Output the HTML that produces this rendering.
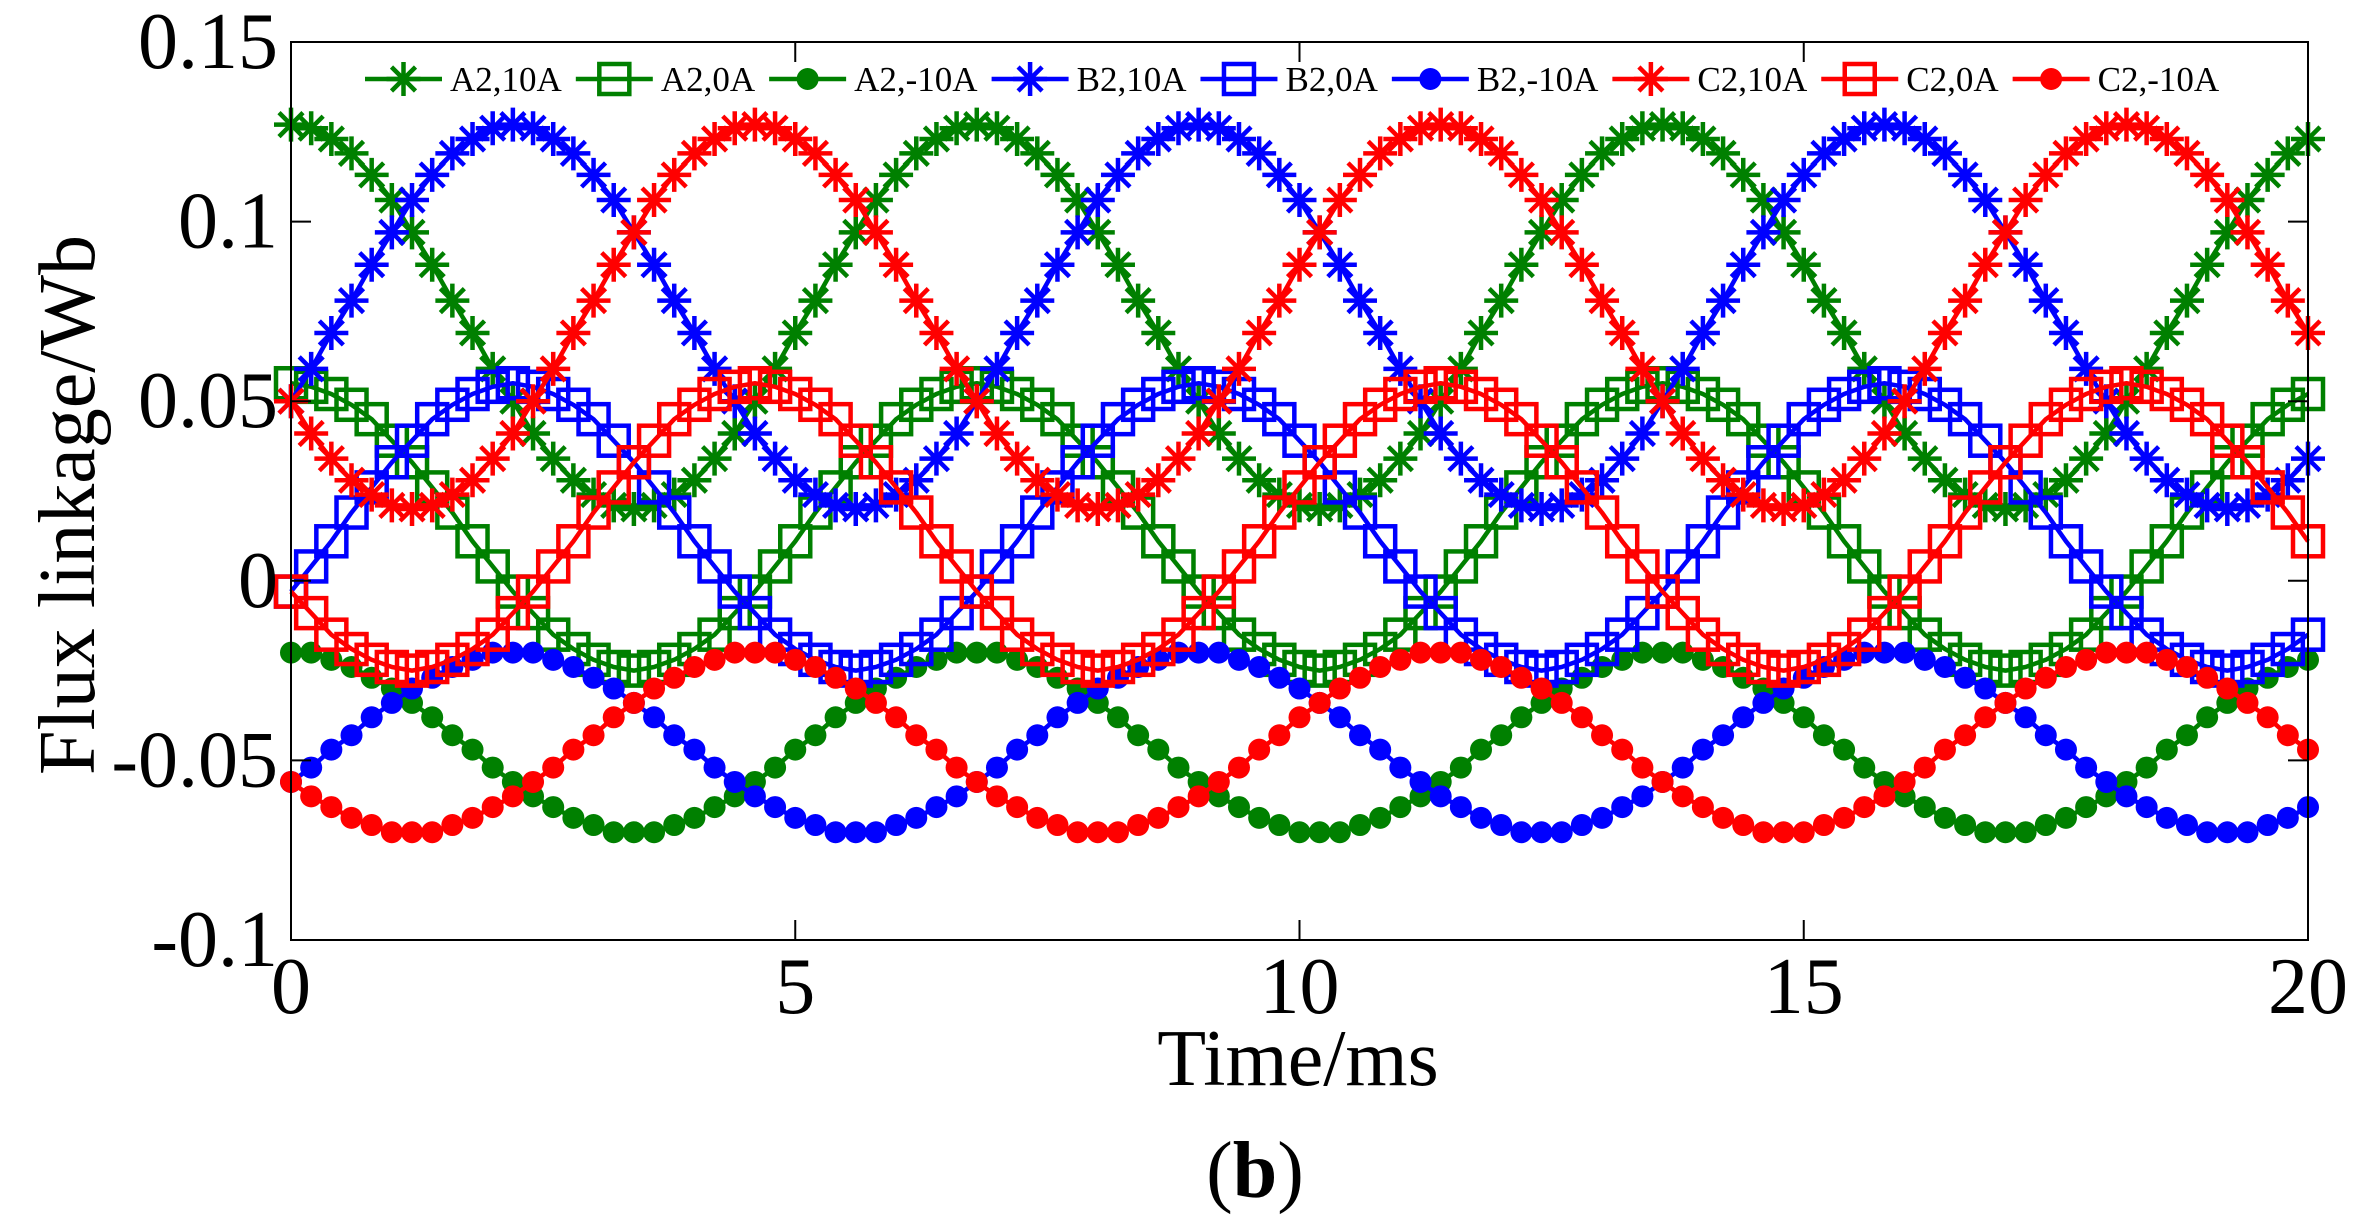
<!DOCTYPE html>
<html>
<head>
<meta charset="utf-8">
<style>
html,body{margin:0;padding:0;background:#fff;}
svg{display:block;}
text{font-family:"Liberation Serif","Times New Roman",serif;fill:#000;}
</style>
</head>
<body>
<svg id="chart" width="2374" height="1231" viewBox="0 0 2374 1231" xmlns="http://www.w3.org/2000/svg">
  <rect x="0" y="0" width="2374" height="1231" fill="#fff"/>
  <g id="series-layer"></g>
  <g id="axes-layer"></g>
  <g id="legend-layer"></g>
  <text x="94" y="505" font-size="80" text-anchor="middle" transform="rotate(-90 94 505)">Flux linkage/Wb</text>
  <text x="1298" y="1085" font-size="80" text-anchor="middle">Time/ms</text>
  <text x="1255" y="1197" font-size="80" text-anchor="middle">(<tspan font-weight="bold">b</tspan>)</text>
</svg>
<script>
// ---- data ----
const timeStep = 0.2; // ms between samples
const xTicks = [0, 5, 10, 15, 20];
const xTickLabels = ["0", "5", "10", "15", "20"];
const yTicks = [0.15, 0.1, 0.05, 0, -0.05, -0.1];
const yTickLabels = ["0.15", "0.1", "0.05", "0", "-0.05", "-0.1"];
const seriesNames = ["A2,10A","A2,0A","A2,-10A","B2,10A","B2,0A","B2,-10A","C2,10A","C2,0A","C2,-10A"];

const a10 = [.127,.126,.123,.119,.113,.106,.097,.088,.078,.069,.059,.050,.041,.034,.028,.024,.021,.020,.021,.024,.028,.034,.041,.050,.059,.069,.078,.088,.097,.106,.113,.119,.123,.126,
.127,.126,.123,.119,.113,.106,.097,.088,.078,.069,.059,.050,.041,.034,.028,.024,.021,.020,.021,.024,.028,.034,.041,.050,.059,.069,.078,.088,.097,.106,.113,.119,.123,.126,
.127,.126,.123,.119,.113,.106,.097,.088,.078,.069,.059,.050,.041,.034,.028,.024,.021,.020,.021,.024,.028,.034,.041,.050,.059,.069,.078,.088,.097,.106,.113,.119,.123];
const a0 = [.055,.054,.052,.049,.045,.039,.033,.026,.019,.011,.004,-.003,-.009,-.015,-.019,-.022,-.024,-.025,-.024,-.022,-.019,-.015,-.009,-.003,.004,.011,.019,.026,.033,.039,.045,.049,.052,.054,
.055,.054,.052,.049,.045,.039,.033,.026,.019,.011,.004,-.003,-.009,-.015,-.019,-.022,-.024,-.025,-.024,-.022,-.019,-.015,-.009,-.003,.004,.011,.019,.026,.033,.039,.045,.049,.052,.054,
.055,.054,.052,.049,.045,.039,.033,.026,.019,.011,.004,-.003,-.009,-.015,-.019,-.022,-.024,-.025,-.024,-.022,-.019,-.015,-.009,-.003,.004,.011,.019,.026,.033,.039,.045,.049,.052];
const am = [-.020,-.020,-.022,-.024,-.027,-.030,-.034,-.038,-.043,-.047,-.052,-.056,-.060,-.063,-.066,-.068,-.070,-.070,-.070,-.068,-.066,-.063,-.060,-.056,-.052,-.047,-.043,-.038,-.034,-.030,-.027,-.024,-.022,-.020,
-.020,-.020,-.022,-.024,-.027,-.030,-.034,-.038,-.043,-.047,-.052,-.056,-.060,-.063,-.066,-.068,-.070,-.070,-.070,-.068,-.066,-.063,-.060,-.056,-.052,-.047,-.043,-.038,-.034,-.030,-.027,-.024,-.022,-.020,
-.020,-.020,-.022,-.024,-.027,-.030,-.034,-.038,-.043,-.047,-.052,-.056,-.060,-.063,-.066,-.068,-.070,-.070,-.070,-.068,-.066,-.063,-.060,-.056,-.052,-.047,-.043,-.038,-.034,-.030,-.027,-.024,-.022];

const b10 = [.050,.059,.069,.078,.088,.097,.106,.113,.119,.123,.126,
.127,.126,.123,.119,.113,.106,.097,.088,.078,.069,.059,.050,.041,.034,.028,.024,.021,.020,.021,.024,.028,.034,.041,.050,.059,.069,.078,.088,.097,.106,.113,.119,.123,.126,
.127,.126,.123,.119,.113,.106,.097,.088,.078,.069,.059,.050,.041,.034,.028,.024,.021,.020,.021,.024,.028,.034,.041,.050,.059,.069,.078,.088,.097,.106,.113,.119,.123,.126,
.127,.126,.123,.119,.113,.106,.097,.088,.078,.069,.059,.050,.041,.034,.028,.024,.021,.020,.021,.024,.028,.034];
const b0 = [-.003,.004,.011,.019,.026,.033,.039,.045,.049,.052,.054,
.055,.054,.052,.049,.045,.039,.033,.026,.019,.011,.004,-.003,-.009,-.015,-.019,-.022,-.024,-.025,-.024,-.022,-.019,-.015,-.009,-.003,.004,.011,.019,.026,.033,.039,.045,.049,.052,.054,
.055,.054,.052,.049,.045,.039,.033,.026,.019,.011,.004,-.003,-.009,-.015,-.019,-.022,-.024,-.025,-.024,-.022,-.019,-.015,-.009,-.003,.004,.011,.019,.026,.033,.039,.045,.049,.052,.054,
.055,.054,.052,.049,.045,.039,.033,.026,.019,.011,.004,-.003,-.009,-.015,-.019,-.022,-.024,-.025,-.024,-.022,-.019,-.015];
const bm = [-.056,-.052,-.047,-.043,-.038,-.034,-.030,-.027,-.024,-.022,-.020,
-.020,-.020,-.022,-.024,-.027,-.030,-.034,-.038,-.043,-.047,-.052,-.056,-.060,-.063,-.066,-.068,-.070,-.070,-.070,-.068,-.066,-.063,-.060,-.056,-.052,-.047,-.043,-.038,-.034,-.030,-.027,-.024,-.022,-.020,
-.020,-.020,-.022,-.024,-.027,-.030,-.034,-.038,-.043,-.047,-.052,-.056,-.060,-.063,-.066,-.068,-.070,-.070,-.070,-.068,-.066,-.063,-.060,-.056,-.052,-.047,-.043,-.038,-.034,-.030,-.027,-.024,-.022,-.020,
-.020,-.020,-.022,-.024,-.027,-.030,-.034,-.038,-.043,-.047,-.052,-.056,-.060,-.063,-.066,-.068,-.070,-.070,-.070,-.068,-.066,-.063];

const c10 = [.050,.041,.034,.028,.024,.021,.020,.021,.024,.028,.034,.041,.050,.059,.069,.078,.088,.097,.106,.113,.119,.123,.126,
.127,.126,.123,.119,.113,.106,.097,.088,.078,.069,.059,.050,.041,.034,.028,.024,.021,.020,.021,.024,.028,.034,.041,.050,.059,.069,.078,.088,.097,.106,.113,.119,.123,.126,
.127,.126,.123,.119,.113,.106,.097,.088,.078,.069,.059,.050,.041,.034,.028,.024,.021,.020,.021,.024,.028,.034,.041,.050,.059,.069,.078,.088,.097,.106,.113,.119,.123,.126,
.127,.126,.123,.119,.113,.106,.097,.088,.078,.069];
const c0 = [-.003,-.009,-.015,-.019,-.022,-.024,-.025,-.024,-.022,-.019,-.015,-.009,-.003,.004,.011,.019,.026,.033,.039,.045,.049,.052,.054,
.055,.054,.052,.049,.045,.039,.033,.026,.019,.011,.004,-.003,-.009,-.015,-.019,-.022,-.024,-.025,-.024,-.022,-.019,-.015,-.009,-.003,.004,.011,.019,.026,.033,.039,.045,.049,.052,.054,
.055,.054,.052,.049,.045,.039,.033,.026,.019,.011,.004,-.003,-.009,-.015,-.019,-.022,-.024,-.025,-.024,-.022,-.019,-.015,-.009,-.003,.004,.011,.019,.026,.033,.039,.045,.049,.052,.054,
.055,.054,.052,.049,.045,.039,.033,.026,.019,.011];
const cm = [-.056,-.060,-.063,-.066,-.068,-.070,-.070,-.070,-.068,-.066,-.063,-.060,-.056,-.052,-.047,-.043,-.038,-.034,-.030,-.027,-.024,-.022,-.020,
-.020,-.020,-.022,-.024,-.027,-.030,-.034,-.038,-.043,-.047,-.052,-.056,-.060,-.063,-.066,-.068,-.070,-.070,-.070,-.068,-.066,-.063,-.060,-.056,-.052,-.047,-.043,-.038,-.034,-.030,-.027,-.024,-.022,-.020,
-.020,-.020,-.022,-.024,-.027,-.030,-.034,-.038,-.043,-.047,-.052,-.056,-.060,-.063,-.066,-.068,-.070,-.070,-.070,-.068,-.066,-.063,-.060,-.056,-.052,-.047,-.043,-.038,-.034,-.030,-.027,-.024,-.022,-.020,
-.020,-.020,-.022,-.024,-.027,-.030,-.034,-.038,-.043,-.047];

// ---- layout ----
const NS = "http://www.w3.org/2000/svg";
const PL = 291, PR = 2308, PT = 42, PB = 940;
const X0 = 0, X1 = 20, Y0 = -0.1, Y1 = 0.15;
function xs(v){ return PL + (v - X0) / (X1 - X0) * (PR - PL); }
function ys(v){ return PB - (v - Y0) / (Y1 - Y0) * (PB - PT); }
function mk(tag, attrs, parent){
  const e = document.createElementNS(NS, tag);
  for (const k in attrs) e.setAttribute(k, attrs[k]);
  parent.appendChild(e);
  return e;
}
const GREEN = "#008000", BLUE = "#0000ff", RED = "#ff0000";
const seriesData = [a10, a0, am, b10, b0, bm, c10, c0, cm];
const seriesColors = [GREEN, GREEN, GREEN, BLUE, BLUE, BLUE, RED, RED, RED];
const seriesMarkers = ["star","square","dot","star","square","dot","star","square","dot"];

function drawMarker(g, type, cx, cy, color){
  let m;
  if (type === "star"){
    const r = 17, d = 12;
    m = mk("path", {d:`M${cx-r},${cy}H${cx+r}M${cx},${cy-r}V${cy+r}M${cx-d},${cy-d}L${cx+d},${cy+d}M${cx-d},${cy+d}L${cx+d},${cy-d}`, stroke:color, "stroke-width":4.5, fill:"none"}, g);
    
  } else if (type === "square"){
    const h = 15;
    m = mk("rect", {x:cx-h, y:cy-h, width:2*h, height:2*h, stroke:color, "stroke-width":4.5, fill:"none"}, g);
    
  } else {
    m = mk("circle", {cx:cx, cy:cy, r:11, fill:color}, g);
    
  }
  
}

const seriesLayer = document.getElementById("series-layer");
seriesData.forEach((arr, si) => {
  const g = mk("g", {}, seriesLayer);
  
  
  const pts = arr.map((v, i) => xs(i * timeStep).toFixed(1) + "," + ys(v).toFixed(1)).join(" ");
  const line = mk("polyline", {points:pts, fill:"none", stroke:seriesColors[si], "stroke-width":4.5, "stroke-linejoin":"round"}, g);
  
  
  arr.forEach((v, i) => drawMarker(g, seriesMarkers[si], xs(i * timeStep), ys(v), seriesColors[si]));
});

// ---- axes ----
const ax = document.getElementById("axes-layer");
const box = mk("rect", {x:PL, y:PT, width:PR-PL, height:PB-PT, fill:"none", stroke:"#000", "stroke-width":2}, ax);


xTicks.forEach((t, i) => {
  const x = xs(t);
  const tk = mk("path", {d:`M${x},${PB}V${PB-20}M${x},${PT}V${PT+20}`, stroke:"#000", "stroke-width":2}, ax);
  
  
  const lb = mk("text", {x:x, y:1013, "font-size":80, "text-anchor":"middle"}, ax);
  lb.textContent = xTickLabels[i];
  
  
});
yTicks.forEach((t, i) => {
  const y = ys(t);
  const tk = mk("path", {d:`M${PL},${y}H${PL+20}M${PR},${y}H${PR-20}`, stroke:"#000", "stroke-width":2}, ax);
  
  
  const lb = mk("text", {x:278, y:y+26, "font-size":80, "text-anchor":"end"}, ax);
  lb.textContent = yTickLabels[i];
  
  
});

// ---- legend ----
const lg = document.getElementById("legend-layer");
let lx = 365;
const ly = 79;
seriesNames.forEach((name, si) => {
  const g = mk("g", {}, lg);
  
  
  const ln = mk("line", {x1:lx, y1:ly, x2:lx+77, y2:ly, stroke:seriesColors[si], "stroke-width":4.5}, g);
  
  
  drawMarker(g, seriesMarkers[si], lx + 38.5, ly, seriesColors[si]);
  const tx = mk("text", {x:lx+85, y:ly+12, "font-size":35}, g);
  tx.textContent = name;
  
  
  lx += 85 + tx.getComputedTextLength() + 14;
});
</script>
</body>
</html>
